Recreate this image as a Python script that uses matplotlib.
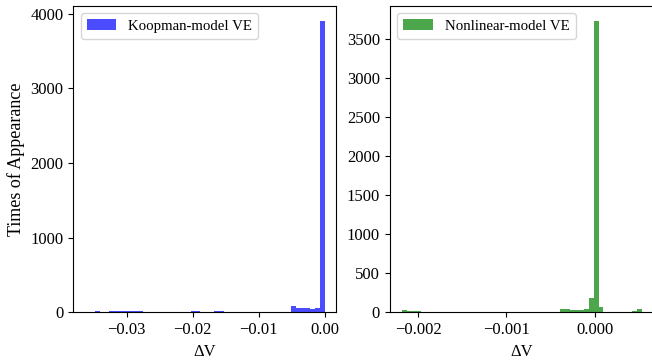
import numpy as np
import matplotlib
matplotlib.use("Agg")
import matplotlib.pyplot as plt
from matplotlib.ticker import MultipleLocator

plt.rcParams['font.family'] = ['Liberation Serif', 'DejaVu Serif']

# histogram bin ranges (50 bins each)
koop_range = (-0.03626, -0.00005)
nonlin_range = (-0.002184, 0.000532)

# counts per bin
koop_counts = [0, 0, 15, 0, 0, 15, 12, 14, 15, 13,
               15, 12, 0, 0, 0, 0, 0, 0, 0, 0,
               0, 0, 15, 12, 0, 0, 0, 12, 15, 0,
               0, 0, 0, 0, 0, 0, 0, 0, 0, 0,
               0, 0, 10, 84, 54, 54, 60, 40, 54, 3907]

nonlin_counts = [25, 12, 12, 12, 0, 10, 0, 0, 0, 0,
                 0, 0, 0, 0, 0, 0, 0, 0, 0, 0,
                 0, 0, 0, 0, 0, 0, 0, 0, 0, 0,
                 0, 0, 0, 42, 42, 30, 28, 28, 40, 188,
                 3740, 64, 10, 10, 10, 10, 10, 10, 20, 45]


def draw_hist(ax, rng, counts, color, label, ystep):
    edges = np.linspace(rng[0], rng[1], len(counts) + 1)
    centers = (edges[:-1] + edges[1:]) / 2
    ax.hist(centers, bins=edges, weights=counts, color=color, alpha=0.7, label=label)
    ax.set_xlabel('ΔV', fontsize=12)
    ax.yaxis.set_major_locator(MultipleLocator(ystep))
    ax.tick_params(labelsize=12)
    ax.legend(loc='upper left', fontsize=10.7)


fig = plt.figure(figsize=(6.52, 3.6), dpi=100)
ax1 = fig.add_axes([0.1124, 0.1325, 0.4037, 0.8508])
ax2 = fig.add_axes([0.5979, 0.1325, 0.405, 0.8508])

draw_hist(ax1, koop_range, koop_counts, 'blue', 'Koopman-model VE', 1000)
draw_hist(ax2, nonlin_range, nonlin_counts, 'green', 'Nonlinear-model VE', 500)
ax1.set_ylabel('Times of Appearance', fontsize=13)

fig.savefig('out.png', dpi=100)
